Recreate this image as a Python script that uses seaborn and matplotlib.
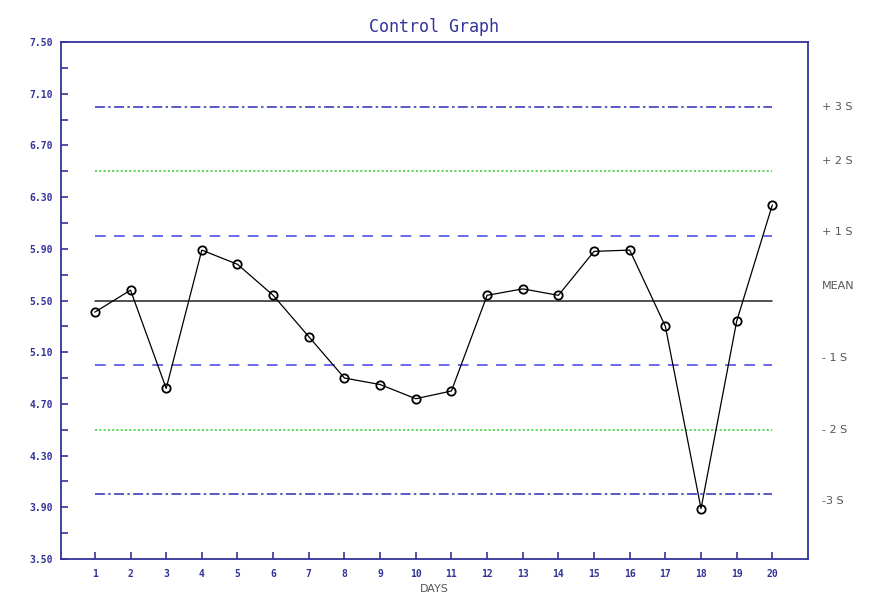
import numpy as np
import pandas as pd
import seaborn as sns
import matplotlib
matplotlib.use("Agg")
import matplotlib.pyplot as plt

# daily measurements
days = list(range(1, 21))
values = [5.41, 5.58, 4.82, 5.89, 5.78, 5.54, 5.22, 4.90, 4.85, 4.74,
          4.80, 5.54, 5.59, 5.54, 5.88, 5.89, 5.30, 3.89, 5.34, 6.24]

mean = 5.5
sd = 0.5
limit_k = [3, 2, 1, 0, -1, -2, -3]
limit_labels = ["+ 3 S", "+ 2 S", "+ 1 S", "MEAN", "- 1 S", "- 2 S", "-3 S"]
# small vertical nudges of the right-hand labels (data units)
label_nudge = [0.0, 0.08, 0.03, 0.11, 0.055, 0.0, -0.05]

y_ticks = [3.5, 3.9, 4.3, 4.7, 5.1, 5.5, 5.9, 6.3, 6.7, 7.1, 7.5]

navy = "#33339a"
df = pd.DataFrame({"day": days, "value": values})

sns.set_style("white")
fig = plt.figure(figsize=(8.87, 5.98), dpi=100)
ax = fig.add_axes([61 / 887, 39 / 598, 747 / 887, 517 / 598])

# control limits
styles = {
    3: dict(color="#2c2cb8", dashes=(6.5, 2.2, 1.6, 2.2)),
    2: dict(color="#33cc33", dashes=(1.4, 1.4)),
    1: dict(color="#4040e8", dashes=(7, 5.5)),
    0: dict(color="#222222", dashes=None),
}
for k in limit_k:
    st = styles[abs(k)]
    (ln,) = ax.plot([days[0], days[-1]], [mean + k * sd] * 2,
                    color=st["color"], lw=1.1, zorder=1)
    if st["dashes"] is not None:
        ln.set_dashes(st["dashes"])

sns.lineplot(data=df, x="day", y="value", ax=ax, color="black", lw=0.9,
             marker="o", markersize=6, markerfacecolor="none",
             markeredgecolor="black", markeredgewidth=1.3, zorder=3)

ax.set_xlim(0.05, 21)
ax.set_ylim(3.5, 7.5)
ax.set_xticks(days)
ax.set_xticklabels([str(d) for d in days])
ax.set_yticks(y_ticks)
ax.set_yticklabels([f"{t:.2f}" for t in y_ticks])
ax.set_yticks(np.arange(3.5, 7.51, 0.2), minor=True)

for s in ax.spines.values():
    s.set_color(navy)
    s.set_linewidth(1.3)
ax.tick_params(axis="both", which="both", direction="in", length=5,
               width=1.2, color=navy, labelcolor=navy)
ax.tick_params(axis="y", which="both", left=True)
ax.tick_params(axis="x", which="major", bottom=True)
for lab in ax.get_xticklabels() + ax.get_yticklabels():
    lab.set_fontfamily("DejaVu Sans Mono")
    lab.set_fontweight("bold")
    lab.set_fontsize(7)
ax.tick_params(axis="y", pad=6)
ax.tick_params(axis="x", pad=7)

ax.set_xlabel("DAYS", fontsize=8, color="#555555", labelpad=4)
ax.set_ylabel("")
ax.set_title("Control Graph", fontsize=12, color=navy,
             fontfamily="DejaVu Sans Mono", pad=7)

trans = ax.get_yaxis_transform()
for k, lab, nd in zip(limit_k, limit_labels, label_nudge):
    ax.text(1.019, mean + k * sd + nd, lab, transform=trans, fontsize=8,
            color="#555555", va="center", ha="left")

fig.savefig("out.png", dpi=100)
